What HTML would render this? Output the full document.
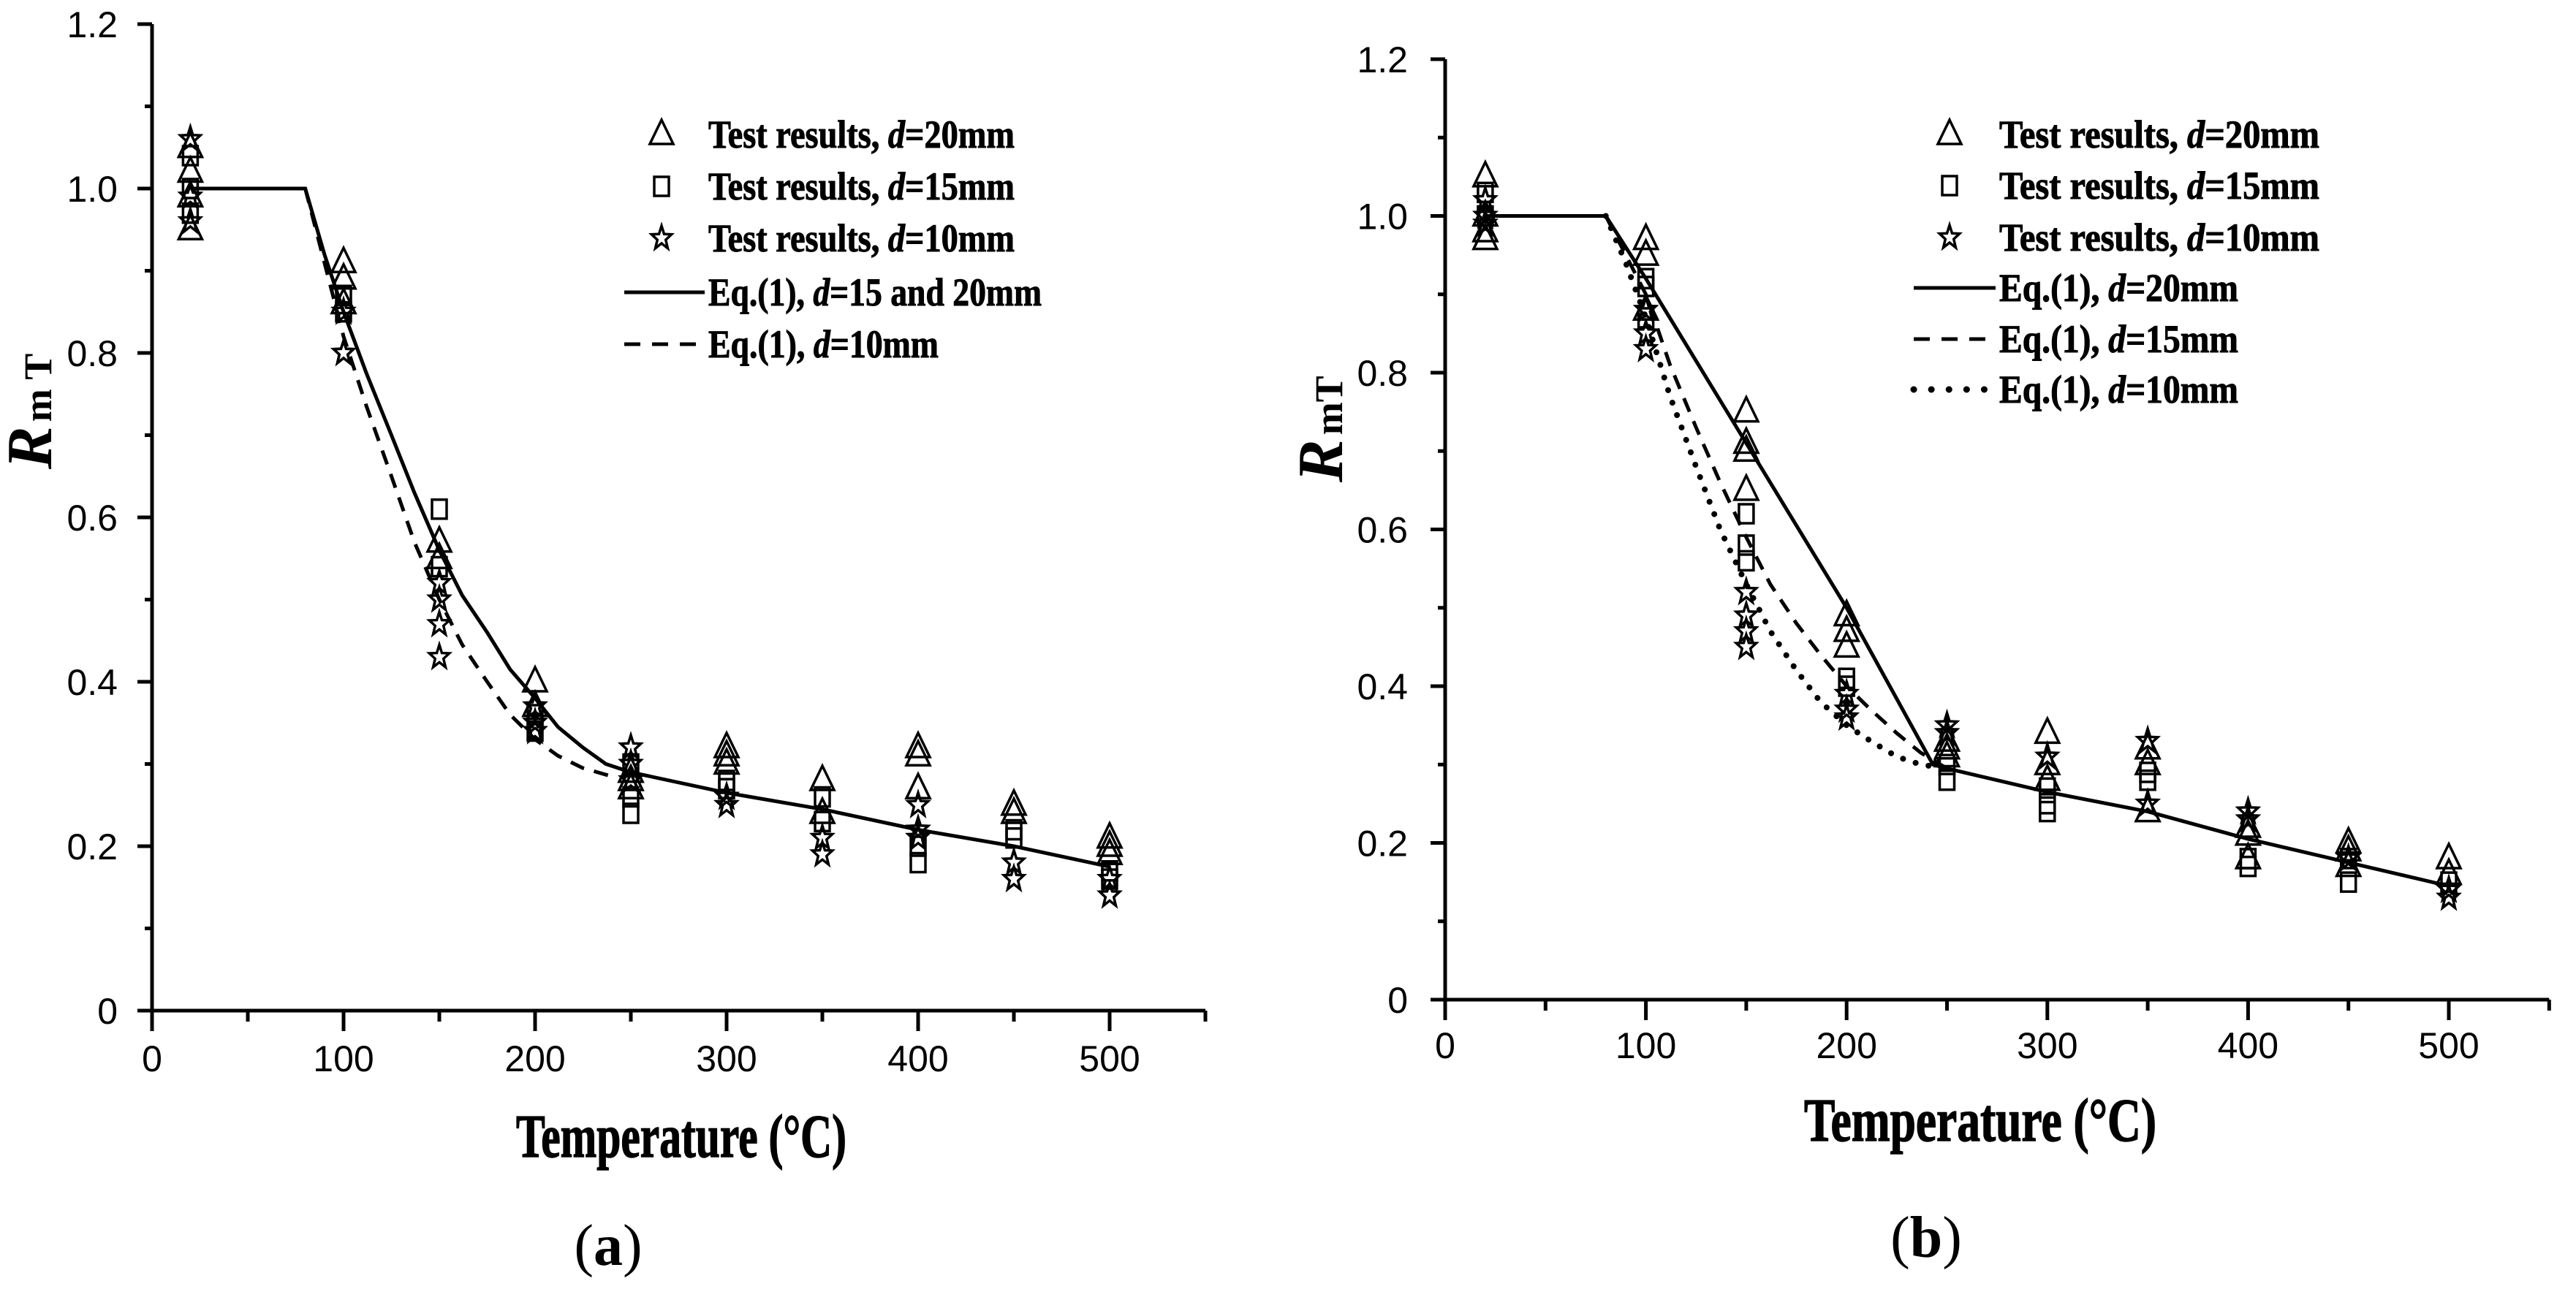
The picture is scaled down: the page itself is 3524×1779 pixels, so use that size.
<!DOCTYPE html>
<html><head><meta charset="utf-8"><style>
html,body{margin:0;padding:0;background:#fff;}
svg{display:block;}
</style></head><body>
<svg id="fig" width="3524" height="1779" viewBox="0 0 3524 1779" xmlns="http://www.w3.org/2000/svg">
<rect width="3524" height="1779" fill="#fff"/>
</svg>
<script>
// ---------- data: panel (a) ----------
const tempsA = [20,100,150,200,250,300,350,400,450,500];
const triA = [[1.05,1.02,0.99,0.95],[0.91,0.89,0.86],[0.57,0.55],[0.40,0.37],[0.29,0.28,0.27],[0.32,0.31,0.30],[0.28,0.24],[0.32,0.31,0.27],[0.25,0.24],[0.21,0.20,0.19]];
const sqA  = [[1.04,1.00,0.97],[0.87,0.85],[0.61,0.54],[0.36,0.34],[0.30,0.26,0.24],[0.28,0.27],[0.26,0.23],[0.20,0.18],[0.22,0.21],[0.17,0.16]];
const starA= [[1.06,0.99,0.96],[0.85,0.80,0.80],[0.52,0.50,0.47,0.43],[0.37,0.35,0.34],[0.32,0.30,0.28],[0.26,0.25],[0.21,0.19],[0.25,0.22,0.21],[0.18,0.16],[0.16,0.14]];
const solidAT = [20,80,90,100,112,125,137,150,162,175,187,200,212,225,237,250,300,350,400,450,500];
const solidAV = [1.0,1.0,0.92,0.85,0.775,0.70,0.63,0.56,0.505,0.46,0.415,0.38,0.345,0.32,0.30,0.29,0.265,0.245,0.22,0.20,0.175];
const dashAT = [80,90,100,112,125,137,150,162,175,187,200,212,225,240];
const dashAV = [1.0,0.91,0.82,0.735,0.65,0.57,0.50,0.445,0.40,0.36,0.33,0.31,0.295,0.285];
// ---------- data: panel (b) ----------
const tempsB = [20,100,150,200,250,300,350,400,450,500];
const triB = [[1.05,1.00,0.98,0.97],[0.97,0.95,0.88],[0.75,0.71,0.70,0.65],[0.49,0.47,0.45],[0.33,0.32,0.31],[0.34,0.30,0.28],[0.32,0.30,0.24],[0.22,0.21,0.18],[0.20,0.19,0.17],[0.18,0.16]];
const sqB  = [[1.03,1.00],[0.92,0.91,0.87],[0.62,0.58,0.56],[0.41,0.40],[0.30,0.28],[0.27,0.25,0.24],[0.29,0.28],[0.17,0.18],[0.15,0.18],[0.15]];
const starB= [[1.02,1.00,0.99],[0.88,0.85,0.83],[0.52,0.49,0.47,0.45],[0.39,0.37,0.36],[0.35,0.34],[0.31],[0.33,0.25],[0.24,0.23],[0.18],[0.13,0.14]];
const solidBT = [20,80,100,150,200,243,250,300,350,400,450,500];
const solidBV = [1.0,1.0,0.92,0.71,0.50,0.30,0.295,0.265,0.24,0.205,0.175,0.145];
const dashBT = [80,90,100,112,125,137,150,162,175,187,200,212,225,237,250];
const dashBV = [1.0,0.95,0.90,0.81,0.73,0.66,0.59,0.53,0.48,0.44,0.40,0.37,0.34,0.315,0.295];
const dotBT = [80,90,100,112,125,137,150,162,175,187,200,212,225,237,250];
const dotBV = [1.0,0.94,0.87,0.77,0.68,0.60,0.53,0.47,0.42,0.38,0.35,0.33,0.31,0.30,0.295];
const xTicks = [0,100,200,300,400,500];
const yTicks = [0,0.2,0.4,0.6,0.8,1.0,1.2];
const yTickLabels = ["0","0.2","0.4","0.6","0.8","1.0","1.2"];

const NS="http://www.w3.org/2000/svg";
const svg=document.getElementById('fig');
function mk(tag,attrs,parent){const e=document.createElementNS(NS,tag);for(const k in attrs)e.setAttribute(k,attrs[k]);(parent||svg).appendChild(e);return e;}

function panel(P){
  const g=mk('g',{});
  
  
  const sx=t=>P.x0+t*P.kx, sy=v=>P.y0-v*P.ky;
  const xEnd=sx(550), yTop=sy(1.2);
  const ya=mk('line',{x1:P.x0,y1:P.y0,x2:P.x0,y2:yTop,stroke:'#000','stroke-width':5},g);
  
  
  const xa=mk('line',{x1:P.x0-20,y1:P.y0,x2:xEnd,y2:P.y0,stroke:'#000','stroke-width':5},g);
  
  
  mk('line',{x1:xEnd,y1:P.y0,x2:xEnd,y2:P.y0+15,stroke:'#000','stroke-width':5},g);
  for(let t=0;t<=500;t+=50){
    const major=t%100===0;
    mk('line',{x1:sx(t),y1:P.y0,x2:sx(t),y2:P.y0+(major?28:15),stroke:'#000','stroke-width':5},g);
  }
  xTicks.forEach(t=>{
    const tx=mk('text',{x:sx(t),y:P.xLabY,'font-family':'Liberation Sans, sans-serif','font-size':50,'text-anchor':'middle'},g);
    tx.textContent=String(t);
    
    
  });
  for(let i=0;i<=12;i++){
    const v=i/10, major=i%2===0;
    mk('line',{x1:P.x0,y1:sy(v),x2:P.x0-(major?20:10),y2:sy(v),stroke:'#000','stroke-width':5},g);
  }
  yTicks.forEach((v,i)=>{
    const tx=mk('text',{x:P.yLabX,y:sy(v)+18,'font-family':'Liberation Sans, sans-serif','font-size':50,'text-anchor':'end'},g);
    tx.textContent=yTickLabels[i];
    
    
  });
  P.curves.forEach(c=>{
    const d=c.t.map((t,i)=>(i?'L':'M')+sx(t).toFixed(1)+' '+sy(c.v[i]).toFixed(1)).join(' ');
    const p=mk('path',{d:d,fill:'none',stroke:'#000','stroke-width':c.w||5,'stroke-dasharray':c.dash||'none','stroke-linecap':c.cap||'butt'},g);
    
    
  });
  function marker(kind,cx,cy,parent){
    if(kind==='tri'){
      return mk('path',{d:`M${cx} ${cy-20} L${cx+16} ${cy+13} L${cx-16} ${cy+13} Z`,fill:'none',stroke:'#000','stroke-width':3.5},parent);
    } else if(kind==='sq'){
      return mk('rect',{x:cx-10,y:cy-13,width:20,height:26,fill:'none',stroke:'#000','stroke-width':3.5},parent);
    } else {
      let pts=[];
      for(let k=0;k<10;k++){const r=k%2?7:17, a=-Math.PI/2+k*Math.PI/5; pts.push((cx+r*Math.cos(a)*0.85).toFixed(1)+','+(cy+r*Math.sin(a)).toFixed(1));}
      return mk('polygon',{points:pts.join(' '),fill:'none',stroke:'#000','stroke-width':3.5},parent);
    }
  }
  P.series.forEach(s=>{
    s.temps.forEach((t,i)=>{
      s.vals[i].forEach(v=>{
        const m=marker(s.kind,sx(t),sy(v),g);
        
        
      });
    });
  });
  P.legend.forEach((L,i)=>{
    const y=P.legY[i];
    if(L.kind){ const m=marker(L.kind,P.legMarkX,y,g);   }
    else { const l=mk('line',{x1:P.legLineX1,y1:y,x2:P.legLineX2,y2:y,stroke:'#000','stroke-width':L.lw||5,'stroke-dasharray':L.dash||'none','stroke-linecap':L.cap||'butt'},g);   }
    const tx=mk('text',{x:P.legTextX,y:y+18,'font-family':'Liberation Serif, serif','font-size':54,'font-weight':'bold',stroke:'#000','stroke-width':1,textLength:L.w,lengthAdjust:'spacingAndGlyphs'},g);
    tx.innerHTML=L.html;
    
    
  });
  const xt=mk('text',{x:P.xTitleX,y:P.xTitleY,'font-family':'Liberation Serif, serif','font-size':84,'font-weight':'bold',stroke:'#000','stroke-width':1.5,textLength:P.xTitleW,lengthAdjust:'spacingAndGlyphs'},g);
  xt.textContent='Temperature (°C)';
  
  
  const yt=mk('text',{transform:`translate(${P.yTitleX},${P.yTitleY}) rotate(-90)`,'font-family':'Liberation Serif, serif','font-weight':'bold'},g);
  yt.innerHTML='<tspan font-size="88" font-style="italic">R</tspan><tspan font-size="54" dx="6">'+P.sub+'</tspan>';
  
  
  const cap=mk('text',{x:P.capX,y:P.capY,'font-family':'Liberation Serif, serif','font-size':80,'text-anchor':'middle'},g);
  cap.innerHTML=P.cap;
  
  
}

panel({name:'panel-a',x0:208,kx:2.62,y0:1383,ky:1125,xLabY:1466,yLabX:161,
  curves:[{t:solidAT,v:solidAV,name:'eq1-d15-20-line'},{t:dashAT,v:dashAV,name:'eq1-d10-line',dash:'20 14'}],
  series:[{kind:'tri',temps:tempsA,vals:triA,name:'test-d20-marker'},{kind:'sq',temps:tempsA,vals:sqA,name:'test-d15-marker'},{kind:'star',temps:tempsA,vals:starA,name:'test-d10-marker'}],
  legY:[184,255,326,400,471],legMarkX:905,legTextX:969,legLineX1:854,legLineX2:964,
  legend:[{kind:'tri',html:'Test results, <tspan font-style="italic">d</tspan>=20mm',w:419},
          {kind:'sq',html:'Test results, <tspan font-style="italic">d</tspan>=15mm',w:419},
          {kind:'star',html:'Test results, <tspan font-style="italic">d</tspan>=10mm',w:419},
          {html:'Eq.(1), <tspan font-style="italic">d</tspan>=15 and 20mm',w:456},
          {html:'Eq.(1), <tspan font-style="italic">d</tspan>=10mm',w:315,dash:'22 16'}],
  xTitleX:706,xTitleY:1583,xTitleW:452,yTitleX:70,yTitleY:642,sub:'m T',
  capX:832,capY:1731,cap:'(<tspan font-weight="bold">a</tspan>)'});

panel({name:'panel-b',x0:1977,kx:2.746,y0:1368,ky:1072.5,xLabY:1448,yLabX:1926,
  curves:[{t:solidBT,v:solidBV,name:'eq1-d20-line'},{t:dashBT,v:dashBV,name:'eq1-d15-line',dash:'20 14'},{t:dotBT,v:dotBV,name:'eq1-d10-line',dash:'0.1 18',cap:'round',w:8}],
  series:[{kind:'tri',temps:tempsB,vals:triB,name:'test-d20-marker'},{kind:'sq',temps:tempsB,vals:sqB,name:'test-d15-marker'},{kind:'star',temps:tempsB,vals:starB,name:'test-d10-marker'}],
  legY:[184,254,325,394,464,533],legMarkX:2667,legTextX:2735,legLineX1:2618,legLineX2:2730,
  legend:[{kind:'tri',html:'Test results, <tspan font-style="italic">d</tspan>=20mm',w:438},
          {kind:'sq',html:'Test results, <tspan font-style="italic">d</tspan>=15mm',w:438},
          {kind:'star',html:'Test results, <tspan font-style="italic">d</tspan>=10mm',w:438},
          {html:'Eq.(1), <tspan font-style="italic">d</tspan>=20mm',w:327},
          {html:'Eq.(1), <tspan font-style="italic">d</tspan>=15mm',w:327,dash:'22 16'},
          {html:'Eq.(1), <tspan font-style="italic">d</tspan>=10mm',w:327,dash:'0.1 24',cap:'round',lw:9}],
  xTitleX:2468,xTitleY:1561,xTitleW:482,yTitleX:1836,yTitleY:660,sub:'mT',
  capX:2635,capY:1720,cap:'(<tspan font-weight="bold">b</tspan>)'});
</script>
</body></html>
